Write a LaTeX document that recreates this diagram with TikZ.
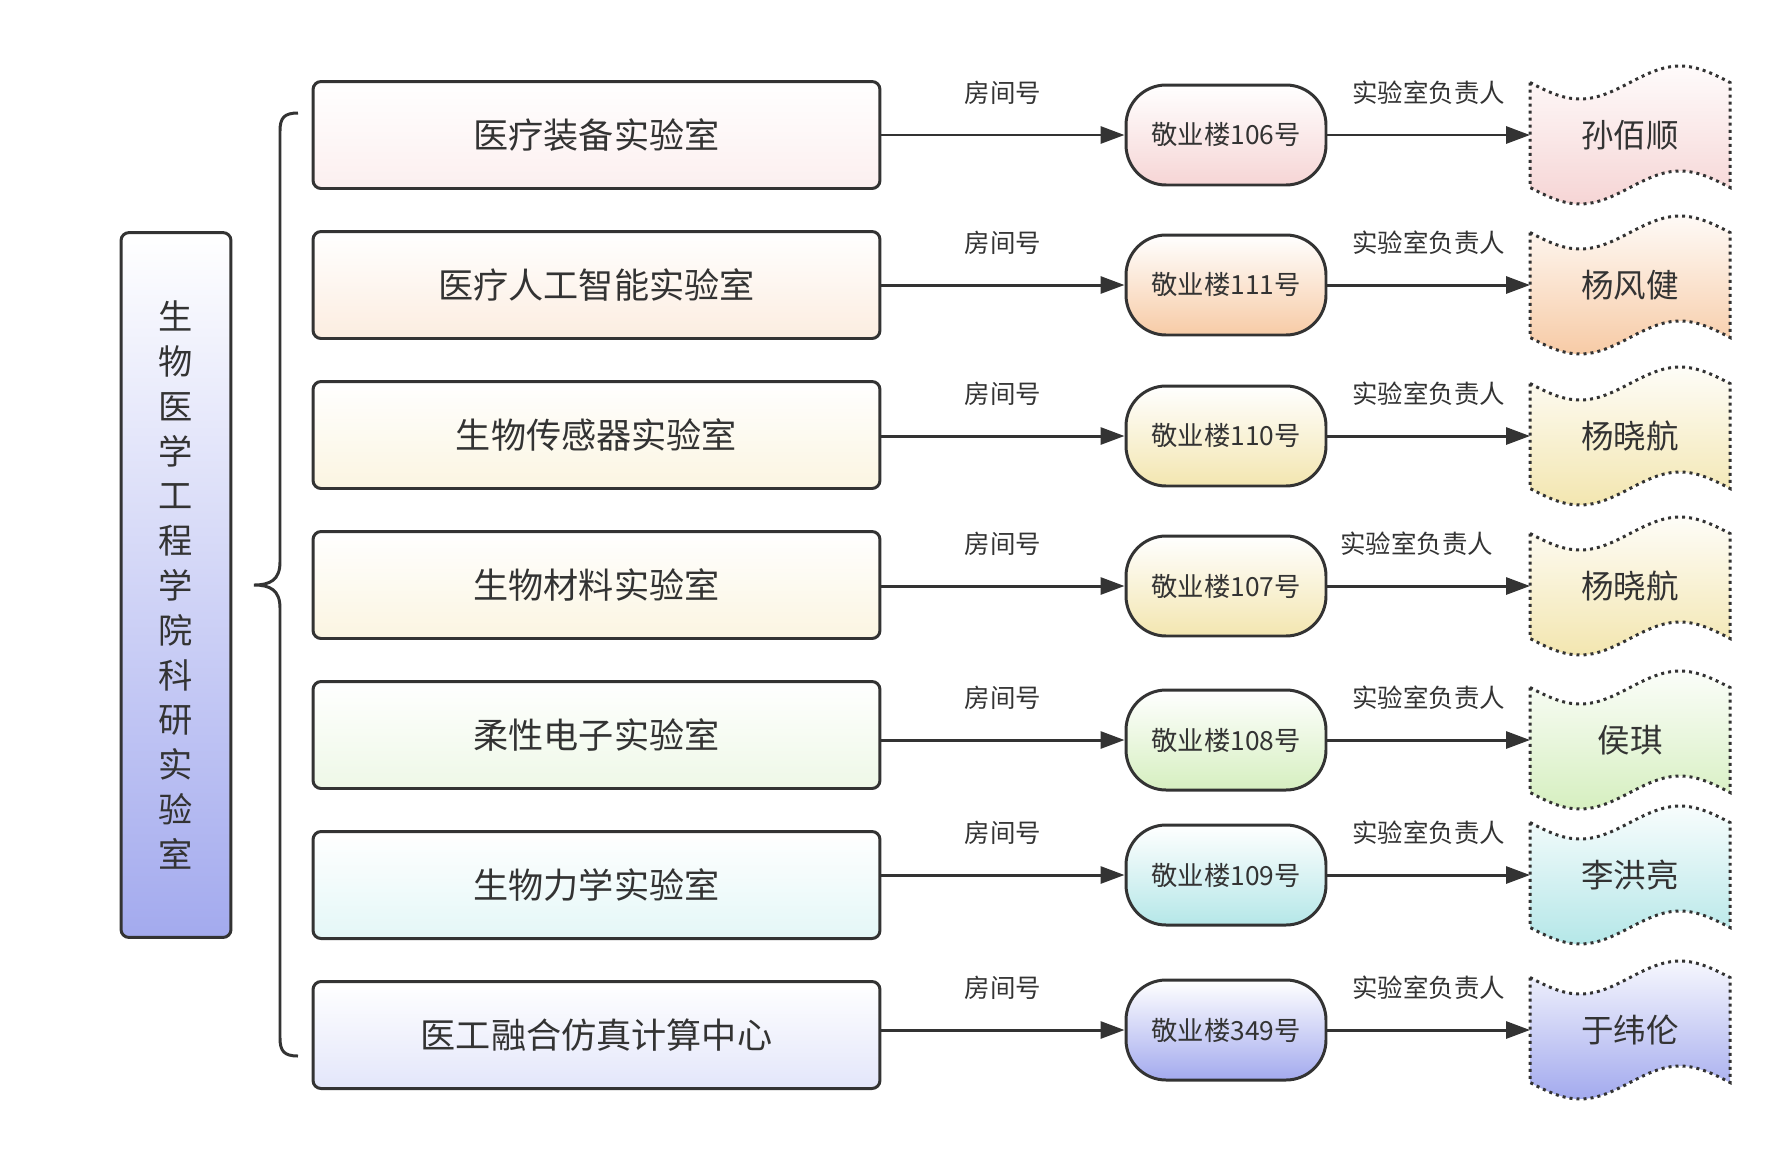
\documentclass[tikz,border=0pt]{standalone}
\usepackage{fontspec}
\setmainfont{Noto Sans CJK SC}
\usetikzlibrary{arrows.meta,backgrounds}
\definecolor{ink}{HTML}{333333}
\definecolor{pinkC}{HTML}{F6D5D5}\definecolor{pinkL}{HTML}{FCEFEF}
\definecolor{peachC}{HTML}{F7CBA6}\definecolor{peachL}{HTML}{FCEDE0}
\definecolor{yellC}{HTML}{F3E6B0}\definecolor{yellL}{HTML}{FBF5E1}
\definecolor{greenC}{HTML}{D6EFC0}\definecolor{greenL}{HTML}{EEF8E7}
\definecolor{cyanC}{HTML}{B5E7E8}\definecolor{cyanL}{HTML}{E4F7F7}
\definecolor{blueC}{HTML}{A3AAEE}\definecolor{blueL}{HTML}{E3E6FA}
\tikzset{
  labbox/.style={draw=ink, line width=1.7pt, rounded corners=0.16cm, top color=white,
    minimum width=11.34cm, minimum height=2.14cm, text=ink, font=\fontsize{20}{24}\selectfont},
  roombox/.style={draw=ink, line width=1.7pt, rounded corners=0.8cm, top color=white,
    minimum width=4cm, minimum height=2cm, text=ink, font=\fontsize{15}{18}\selectfont},
  headbox/.style={minimum width=4cm, minimum height=2.1cm, inner sep=0pt, outer sep=0pt,
    text=ink, font=\fontsize{18.5}{22}\selectfont},
  conn/.style={draw=ink, line width=1.7pt, -{Triangle[length=0.48cm,width=0.34cm]}},
  lbl/.style={midway, yshift=0.84cm, text=ink, font=\fontsize{14.5}{17}\selectfont},
  tapeline/.style={draw=ink, line width=1.7pt, dash pattern=on 1.7pt off 2.3pt}
}
% wavy outline round a head node
\newcommand{\wavybox}[2]{\path[tapeline, top color=#2!10, bottom color=#2]
  (#1.north west) sin ++(1cm,-0.33cm) cos ++(1cm,0.33cm) sin ++(1cm,0.33cm) cos ++(1cm,-0.33cm)
  -- (#1.south east) sin ++(-1cm,0.33cm) cos ++(-1cm,-0.33cm) sin ++(-1cm,-0.33cm) cos ++(-1cm,0.33cm) -- cycle;}
\begin{document}
\begin{tikzpicture}[x=0.02cm, y=-0.02cm]
\useasboundingbox (0,0) rectangle (1780,1150);
\node[draw=ink, line width=1.7pt, rounded corners=0.16cm, top color=white, bottom color=blueC,
  minimum width=2.2cm, minimum height=14.1cm, align=center, text=ink,
  font=\fontsize{19.5}{25.5}\selectfont] (college) at (176,585)
  {生\\物\\医\\学\\工\\程\\学\\院\\科\\研\\实\\验\\室};
\draw[ink, line width=1.7pt] (298,113) .. controls (284,113) and (280,118) .. (280,131) -- (280,562)
  .. controls (280,580) and (270,585) .. (254,585) .. controls (270,585) and (280,590) .. (280,608)
  -- (280,1038) .. controls (280,1051) and (284,1056) .. (298,1056);
% labs
\node[labbox, bottom color=pinkL] (lab1) at (596.5,135) {医疗装备实验室};
\node[labbox, bottom color=peachL] (lab2) at (596.5,285) {医疗人工智能实验室};
\node[labbox, bottom color=yellL] (lab3) at (596.5,435) {生物传感器实验室};
\node[labbox, bottom color=yellL] (lab4) at (596.5,585) {生物材料实验室};
\node[labbox, bottom color=greenL] (lab5) at (596.5,735) {柔性电子实验室};
\node[labbox, bottom color=cyanL] (lab6) at (596.5,885) {生物力学实验室};
\node[labbox, bottom color=blueL] (lab7) at (596.5,1035) {医工融合仿真计算中心};
% rooms
\node[roombox, bottom color=pinkC] (room1) at (1226,135) {敬业楼106号};
\node[roombox, bottom color=peachC] (room2) at (1226,285) {敬业楼111号};
\node[roombox, bottom color=yellC] (room3) at (1226,436) {敬业楼110号};
\node[roombox, bottom color=yellC] (room4) at (1226,586) {敬业楼107号};
\node[roombox, bottom color=greenC] (room5) at (1226,740) {敬业楼108号};
\node[roombox, bottom color=cyanC] (room6) at (1226,875) {敬业楼109号};
\node[roombox, bottom color=blueC] (room7) at (1226,1030) {敬业楼349号};
% heads
\node[headbox] (head1) at (1630,135) {孙佰顺};
\node[headbox] (head2) at (1630,285) {杨风健};
\node[headbox] (head3) at (1630,436) {杨晓航};
\node[headbox] (head4) at (1630,586) {杨晓航};
\node[headbox] (head5) at (1630,740) {侯琪};
\node[headbox] (head6) at (1630,875) {李洪亮};
\node[headbox] (head7) at (1630,1030) {于纬伦};
\begin{scope}[on background layer]
\wavybox{head1}{pinkC} \wavybox{head2}{peachC} \wavybox{head3}{yellC} \wavybox{head4}{yellC}
\wavybox{head5}{greenC} \wavybox{head6}{cyanC} \wavybox{head7}{blueC}
\end{scope}
% connectors
\draw[conn] (lab1.east |- room1.west) -- node[lbl]{房间号} (room1.west);
\draw[conn] (lab2.east |- room2.west) -- node[lbl]{房间号} (room2.west);
\draw[conn] (lab3.east |- room3.west) -- node[lbl]{房间号} (room3.west);
\draw[conn] (lab4.east |- room4.west) -- node[lbl]{房间号} (room4.west);
\draw[conn] (lab5.east |- room5.west) -- node[lbl]{房间号} (room5.west);
\draw[conn] (lab6.east |- room6.west) -- node[lbl]{房间号} (room6.west);
\draw[conn] (lab7.east |- room7.west) -- node[lbl]{房间号} (room7.west);
\draw[conn] (room1.east) -- node[lbl]{实验室负责人} (head1.west);
\draw[conn] (room2.east) -- node[lbl]{实验室负责人} (head2.west);
\draw[conn] (room3.east) -- node[lbl]{实验室负责人} (head3.west);
\draw[conn] (room4.east) -- node[lbl, xshift=-0.24cm]{实验室负责人} (head4.west);
\draw[conn] (room5.east) -- node[lbl]{实验室负责人} (head5.west);
\draw[conn] (room6.east) -- node[lbl]{实验室负责人} (head6.west);
\draw[conn] (room7.east) -- node[lbl]{实验室负责人} (head7.west);
\end{tikzpicture}
\end{document}
